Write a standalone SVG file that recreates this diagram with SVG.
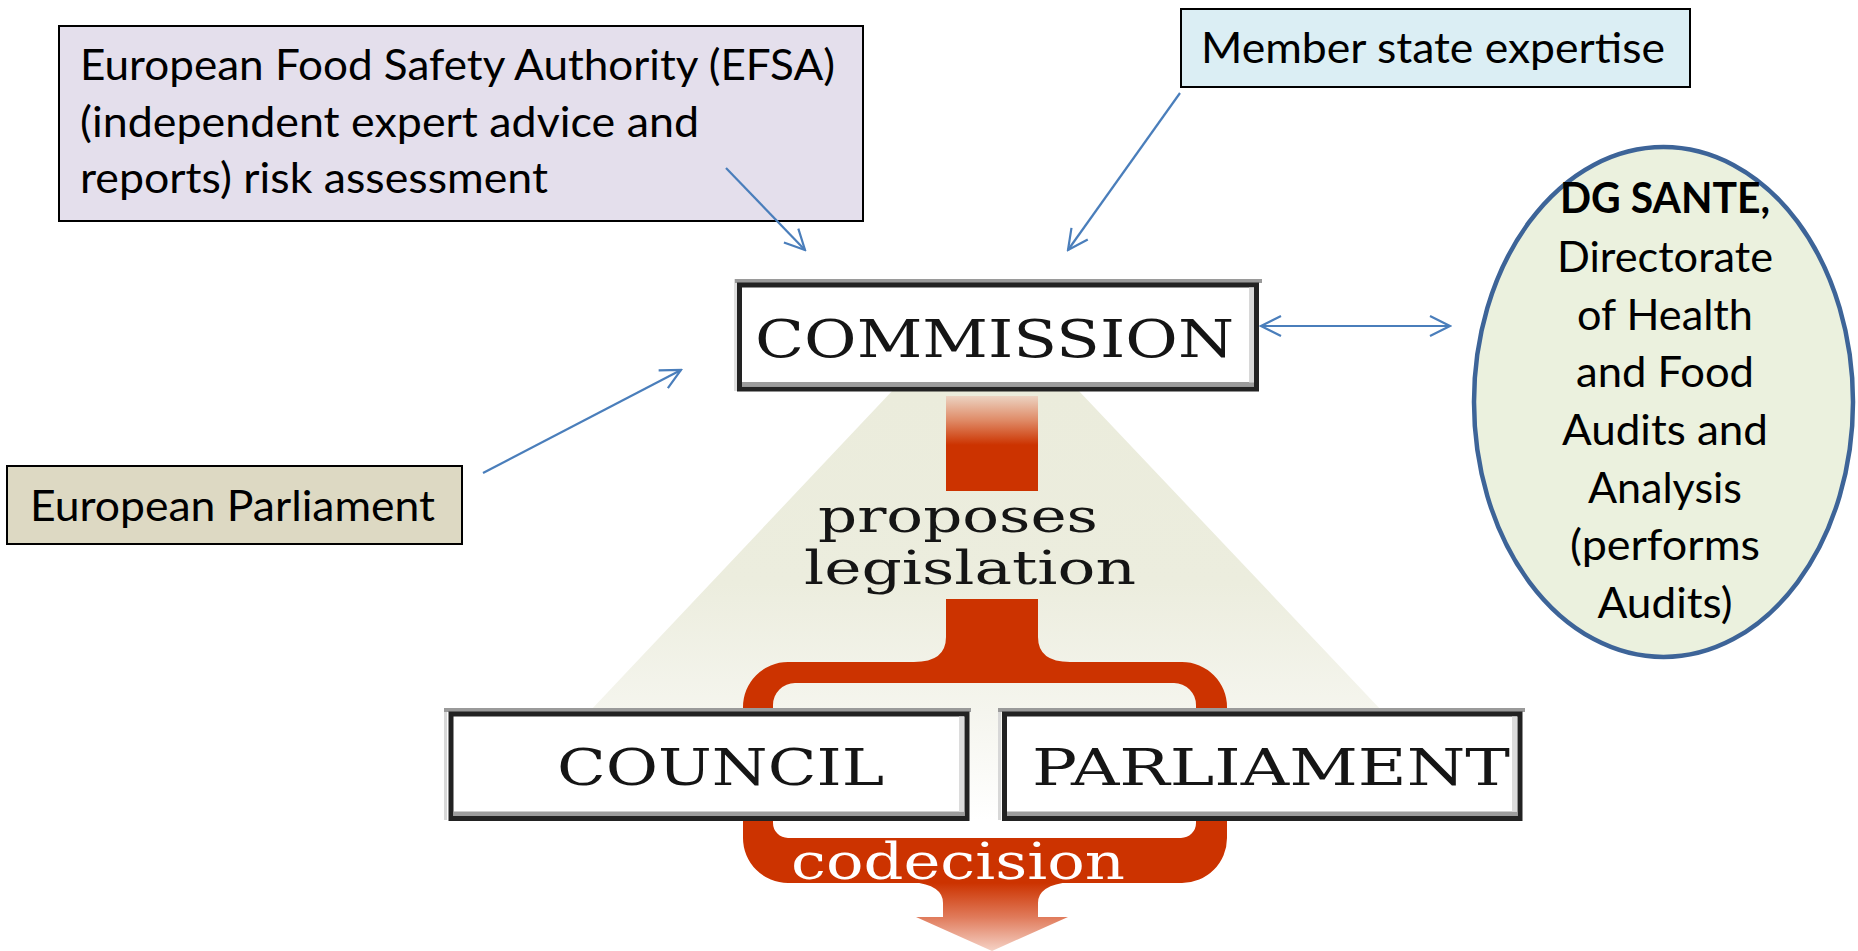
<svg xmlns="http://www.w3.org/2000/svg" width="1858" height="951" viewBox="0 0 1858 951">
<style>
.cal{font-family:Lato,"Open Sans","Liberation Sans",sans-serif;font-size:42px;fill:#000}
.ser{font-family:"DejaVu Serif","Liberation Serif",serif;fill:#151515}
.box{stroke:#000;stroke-width:2}
.con{stroke:#4a7ebb;stroke-width:2.2;fill:none}
.frame{fill:#fff;stroke:#222;stroke-width:5}
.gtop{fill:#9a9a9a}
.gin{fill:#9c9c9c}
.red{fill:#cc3300}
</style>
<defs>
<marker id="ah" markerUnits="userSpaceOnUse" markerWidth="24" markerHeight="24" viewBox="0 0 24 24" refX="22" refY="12" orient="auto-start-reverse">
<path d="M2,2 L22,12 L2,22" fill="none" stroke="#4a7ebb" stroke-width="2.2"/>
</marker>
<linearGradient id="cone" x1="0" y1="390" x2="0" y2="820" gradientUnits="userSpaceOnUse">
<stop offset="0" stop-color="#ebecdc"/>
<stop offset="0.45" stop-color="#ecedde"/>
<stop offset="0.75" stop-color="#f5f5ee"/>
<stop offset="1" stop-color="#ffffff"/>
</linearGradient>
<linearGradient id="topbar" x1="0" y1="396" x2="0" y2="445" gradientUnits="userSpaceOnUse">
<stop offset="0" stop-color="#ecd3c2"/>
<stop offset="0.5" stop-color="#df8a66"/>
<stop offset="1" stop-color="#cc3300"/>
</linearGradient>
<linearGradient id="down" x1="0" y1="883" x2="0" y2="951" gradientUnits="userSpaceOnUse">
<stop offset="0" stop-color="#cc3300"/>
<stop offset="0.5" stop-color="#e07a5a"/>
<stop offset="1" stop-color="#f5d2c6"/>
</linearGradient>
</defs>

<g id="legislation-flow">
<polygon points="893,390 1078,390 1382,711 1490,820 480,820 590,711" fill="url(#cone)"/>
<rect x="946" y="396" width="92" height="95" fill="url(#topbar)"/>
<path class="red" fill-rule="evenodd" d="M788,662 L1182,662 A45,45 0 0 1 1227,707 L1227,838 A45,45 0 0 1 1182,883 L788,883 A45,45 0 0 1 743,838 L743,707 A45,45 0 0 1 788,662 Z M795,683 L1174,683 A22,22 0 0 1 1196,705 L1196,823 A15,15 0 0 1 1181,838 L788,838 A15,15 0 0 1 773,823 L773,705 A22,22 0 0 1 795,683 Z"/>
<path class="red" d="M946,599 L1038,599 L1038,637 Q1038,662 1070,662 L914,662 Q946,662 946,637 Z"/>
<path fill="url(#down)" d="M912,882 Q943,885 943,903 L943,917 L916,917 L992,951 L1068,917 L1038,917 L1038,903 Q1038,885 1070,882 Z"/>
<text class="ser" x="818" y="532" font-size="46" textLength="280" lengthAdjust="spacingAndGlyphs">proposes</text>
<text class="ser" x="804" y="584" font-size="46" textLength="332" lengthAdjust="spacingAndGlyphs">legislation</text>
<text class="ser" x="791" y="879" font-size="50" textLength="334" lengthAdjust="spacingAndGlyphs" style="fill:#fff">codecision</text>
</g>

<g id="commission">
<rect x="734" y="279" width="3" height="112" fill="#e0e0e0"/>
<rect class="gtop" x="735" y="279" width="527" height="4"/>
<rect class="frame" x="739.5" y="285" width="517" height="104"/>
<rect class="gin" x="742" y="382" width="512" height="4.5"/>
<rect x="1249" y="287.5" width="5" height="95" fill="#d8d8d8"/>
<text class="ser" x="755" y="357" font-size="53" textLength="479" lengthAdjust="spacingAndGlyphs">COMMISSION</text>
</g>

<g id="council">
<rect x="444" y="708" width="3" height="112" fill="#d8d8d8"/>
<rect class="gtop" x="444" y="708" width="527" height="4"/>
<rect class="frame" x="451" y="714" width="516" height="104.5"/>
<rect class="gin" x="453.5" y="811.5" width="511" height="4.5"/>
<rect x="959" y="716.5" width="5" height="95" fill="#dcdcdc"/>
<text class="ser" x="557" y="785" font-size="51" textLength="327" lengthAdjust="spacingAndGlyphs">COUNCIL</text>
</g>

<g id="parliament">
<rect x="998" y="708" width="3" height="112" fill="#d8d8d8"/>
<rect class="gtop" x="998" y="708" width="527" height="4"/>
<rect class="frame" x="1004.5" y="714" width="515.5" height="104.5"/>
<rect class="gin" x="1007" y="811.5" width="510.5" height="4.5"/>
<rect x="1512" y="716.5" width="5" height="95" fill="#dcdcdc"/>
<text class="ser" x="1032" y="785" font-size="51" textLength="478" lengthAdjust="spacingAndGlyphs">PARLIAMENT</text>
</g>

<g id="efsa">
<rect class="box" x="59" y="26" width="804" height="195" fill="#e4dfec"/>
<text class="cal" x="80" y="80" textLength="755" lengthAdjust="spacingAndGlyphs">European Food Safety Authority (EFSA)</text>
<text class="cal" x="80" y="137" textLength="619" lengthAdjust="spacingAndGlyphs">(independent expert advice and</text>
<text class="cal" x="80" y="193" textLength="468" lengthAdjust="spacingAndGlyphs">reports) risk assessment</text>
</g>

<g id="member-state">
<rect class="box" x="1181" y="9" width="509" height="78" fill="#dbeef4"/>
<text class="cal" x="1201" y="63" textLength="464" lengthAdjust="spacingAndGlyphs">Member state expertise</text>
</g>

<g id="european-parliament">
<rect class="box" x="7" y="466" width="455" height="78" fill="#ddd9c3"/>
<text class="cal" x="30" y="521" textLength="405" lengthAdjust="spacingAndGlyphs">European Parliament</text>
</g>

<g id="dg-sante">
<ellipse cx="1663.5" cy="402" rx="189.5" ry="255" fill="#ebf1de" stroke="#3d6498" stroke-width="4.5"/>
<g class="cal" text-anchor="middle">
<text x="1665" y="213" font-weight="bold" textLength="210" lengthAdjust="spacingAndGlyphs">DG SANTE,</text>
<text x="1665" y="272" textLength="216" lengthAdjust="spacingAndGlyphs">Directorate</text>
<text x="1665" y="330" textLength="176" lengthAdjust="spacingAndGlyphs">of Health</text>
<text x="1665" y="387" textLength="178" lengthAdjust="spacingAndGlyphs">and Food</text>
<text x="1665" y="445" textLength="206" lengthAdjust="spacingAndGlyphs">Audits and</text>
<text x="1665" y="503" textLength="154" lengthAdjust="spacingAndGlyphs">Analysis</text>
<text x="1665" y="560" textLength="190" lengthAdjust="spacingAndGlyphs">(performs</text>
<text x="1665" y="618" textLength="135" lengthAdjust="spacingAndGlyphs">Audits)</text>
</g>
</g>

<g id="connectors">
<line class="con" x1="726" y1="168" x2="805" y2="250" marker-end="url(#ah)"/>
<line class="con" x1="1180" y1="93" x2="1068" y2="250" marker-end="url(#ah)"/>
<line class="con" x1="483" y1="473" x2="681" y2="370" marker-end="url(#ah)"/>
<line class="con" x1="1261" y1="326" x2="1450" y2="326" marker-start="url(#ah)" marker-end="url(#ah)"/>
</g>
</svg>
